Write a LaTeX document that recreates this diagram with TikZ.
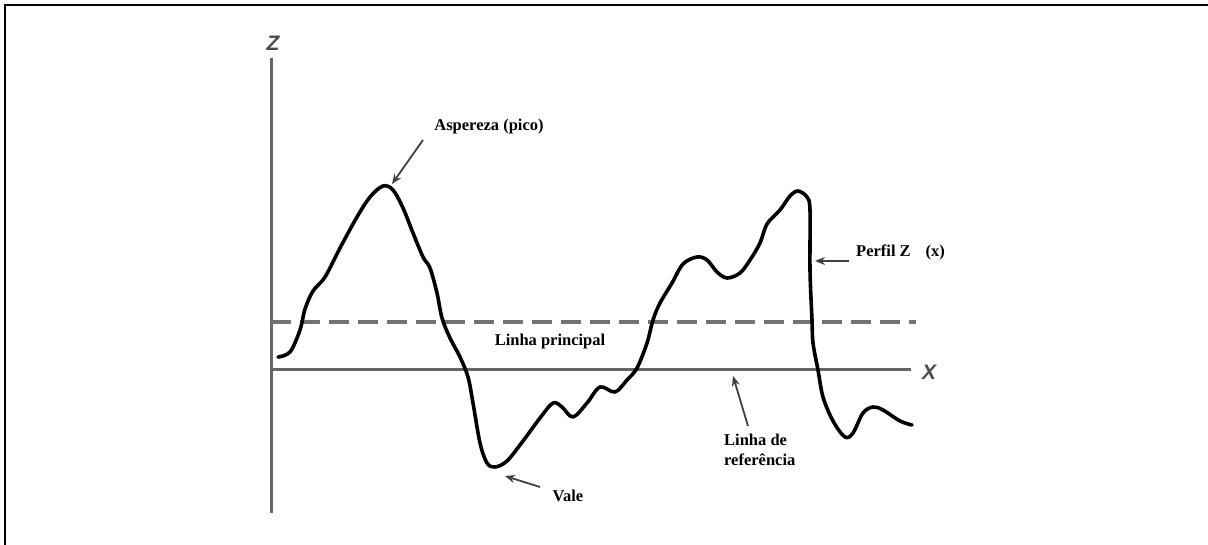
\documentclass[tikz,border=0pt]{standalone}
\usepackage{fontspec}
\setmainfont{Liberation Serif}
\setsansfont{Liberation Sans}
\usetikzlibrary{arrows.meta}
\begin{document}
\begin{tikzpicture}[x=1pt,y=-1pt,
  lbl/.style={font=\fontsize{16.5}{18}\selectfont\bfseries, inner sep=0pt, text=black},
  axlbl/.style={font=\fontsize{21}{22}\selectfont\sffamily\bfseries\itshape, text=black!70, inner sep=0pt},
  axisline/.style={draw=black!60, line width=3pt},
  meanline/.style={draw=black!55, line width=3.4pt, dash pattern=on 20pt off 9pt},
  arr/.style={draw=black!75, line width=1.8pt, -{Stealth[length=10pt,width=8pt]}},
  profile/.style={draw=black, line width=3.6pt, line join=round, line cap=round}]
\useasboundingbox (0,0) rectangle (1208,545);
% frame
\draw[black, line width=2.4pt] (5,545) -- (5,5) -- (1208,5);
% axes
\coordinate (zt) at (271,58);
\coordinate (zb) at (271,513);
\coordinate (xs) at (271,370);
\coordinate (xe) at (911,370);
\coordinate (ms) at (271,322);
\coordinate (me) at (916,322);
\draw[axisline] (zt) -- (zb);
\draw[axisline] (xs) -- (xe);
\draw[meanline] (ms) -- (me);
\node[axlbl] (zl) at (273,43) {Z};
\node[axlbl] (xl) at (929,372) {X};
% profile
\draw[profile] plot[smooth, tension=0.55] coordinates {
 (278,357) (290,352) (300,330) (305,309) (313,291) (325,277) (340,248)
 (357,217) (370,197) (383,186) (393,190) (403,208) (413,233) (423,257)
 (430,268) (437,293) (442,318) (450,338) (460,357) (468,377) (473,403)
 (480,443) (487,463) (495,467) (507,461) (523,441) (540,418) (553,403)
 (562,407) (573,417) (587,403) (600,387) (615,392) (627,380) (637,368)
 (647,343) (653,320) (660,303) (672,283) (683,264) (697,257) (707,260)
 (717,272) (727,278) (740,273) (750,260) (760,243) (767,224) (780,210)
 (790,196) (798,191) (807,197) (810,210) (810,270) (812,320) (813,343)
 (818,370) (823,397) (833,421) (845,437) (853,433) (863,413) (873,407)
 (883,410) (900,421) (912,425)};
% labels
\node[lbl] (pico) at (489,127) {Aspereza (pico)};
\coordinate (picoA) at (423,140);
\coordinate (picoB) at (392,184);
\draw[arr] (picoA) -- (picoB);
\node[lbl, anchor=west] (perfil) at (856,252) {Perfil Z\hspace{0.9em}(x)};
\coordinate (perfA) at (849,261);
\coordinate (perfB) at (815,261);
\draw[arr] (perfA) -- (perfB);
\node[lbl] (princ) at (550,342) {Linha principal};
\node[lbl] (vale) at (568,496) {Vale};
\coordinate (valeA) at (540,487);
\coordinate (valeB) at (505,476);
\draw[arr] (valeA) -- (valeB);
\node[lbl, align=left, anchor=north west, font=\fontsize{16.5}{20}\selectfont\bfseries] (ref) at (724,434) {Linha de\\referência};
\coordinate (refA) at (748,426);
\coordinate (refB) at (733,376);
\draw[arr] (refA) -- (refB);
\end{tikzpicture}
\end{document}
